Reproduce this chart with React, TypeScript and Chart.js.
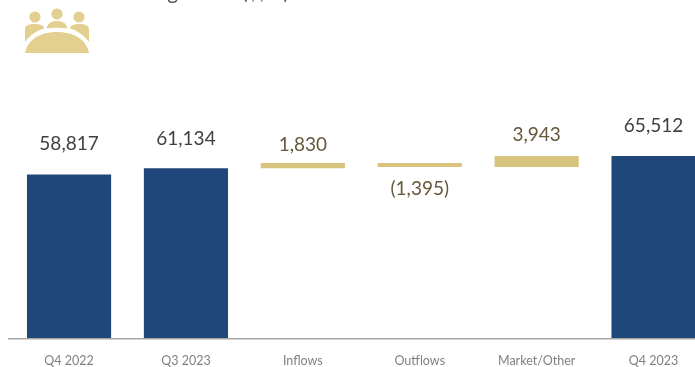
import React, { useEffect, useRef } from "react";
import { Chart, registerables } from "chart.js";

Chart.register(...registerables);

const categories = ["Q4 2022", "Q3 2023", "Inflows", "Outflows", "Market/Other", "Q4 2023"];
const barLow = [0, 0, 61134, 61569, 61569, 0];
const barHigh = [58817, 61134, 62964, 62964, 65512, 65512];
const valueLabels = ["58,817", "61,134", "1,830", "(1,395)", "3,943", "65,512"];
const labelColors = ["#404040", "#404040", "#65583a", "#65583a", "#65583a", "#404040"];
const barColors = ["#1f477a", "#1f477a", "#d8c47f", "#d8c47f", "#d8c47f", "#1f477a"];
// Gap between a bar's edge and its label centre; the outflow label sits below its bar.
const labelGaps = [31, 29, 18, -22, 21, 30];
const titleText = "Assets Under Management ($, B)";

const FONT = 'Lato, sans-serif';

const valueLabelPlugin = {
  id: "valueLabels",
  afterDatasetsDraw(chart: any) {
    const { ctx, scales } = chart;
    ctx.save();
    // baseline rule, running slightly past the plot's left edge
    const axisY = scales.y.getPixelForValue(0) + 0.75;
    ctx.strokeStyle = "#a6a6a6";
    ctx.lineWidth = 1.6;
    ctx.beginPath();
    ctx.moveTo(8, axisY);
    ctx.lineTo(695, axisY);
    ctx.stroke();

    ctx.textAlign = "center";
    ctx.textBaseline = "middle";
    ctx.font = `19px ${FONT}`;
    categories.forEach((_, i) => {
      const edge = labelGaps[i] < 0 ? barLow[i] : barHigh[i];
      ctx.fillStyle = labelColors[i];
      ctx.fillText(valueLabels[i], scales.x.getPixelForValue(i), scales.y.getPixelForValue(edge) - labelGaps[i]);
    });

    ctx.fillStyle = "#595959";
    ctx.textAlign = "right";
    ctx.textBaseline = "alphabetic";
    ctx.font = `21px ${FONT}`;
    ctx.fillText(titleText, 289, -1);
    ctx.restore();
  },
};

export default function App() {
  const ref = useRef<HTMLCanvasElement>(null);
  useEffect(() => {
    const chart = new Chart(ref.current!, {
      type: "bar",
      data: {
        labels: categories,
        datasets: [
          {
            data: categories.map((_, i) => [barLow[i], barHigh[i]]) as any,
            backgroundColor: barColors,
            barPercentage: 1,
            categoryPercentage: 0.72,
          },
        ],
      },
      options: {
        animation: false,
        responsive: false,
        layout: { padding: { left: 10.6, right: 0, top: 0, bottom: 0 } },
        plugins: { legend: { display: false }, tooltip: { enabled: false } },
        scales: {
          x: {
            border: { display: false },
            grid: { display: false },
            ticks: { color: "#808080", font: { family: FONT, size: 12.5 }, padding: 7, maxRotation: 0 },
            afterFit(scale: any) {
              scale.height = 29;
            },
          },
          y: { display: false, min: 0, max: 121670 },
        },
      },
      plugins: [valueLabelPlugin],
    });
    return () => chart.destroy();
  }, []);

  return (
    <div style={{ position: "fixed", left: 0, top: 0, width: 695, height: 367, overflow: "hidden", background: "#fff" }}>
      <canvas ref={ref} width={712} height={367} style={{ display: "block" }} />
      <svg width="66" height="46" viewBox="0 0 66 46" style={{ position: "absolute", left: 24, top: 7 }} fill="#e3cf8f">
        <circle cx="11" cy="10" r="5.6" />
        <circle cx="33" cy="7" r="5.6" />
        <circle cx="55" cy="10" r="5.6" />
        <path d="M1 35 V22 C1 18 6 17 10.5 17 C15 17 20 18 20 21.5 C12 24 5 29 1 35 Z" />
        <path d="M23 21.5 C23 16 28 14 33 14 C38 14 43 16 43 21.5 C37 20.5 29 20.5 23 21.5 Z" />
        <path d="M65 35 V22 C65 18 60 17 55.5 17 C51 17 46 18 46 21.5 C54 24 61 29 65 35 Z" />
        <path d="M1 46 C4 31 18 25 33 25 C48 25 62 31 65 46 Z" />
      </svg>
    </div>
  );
}
